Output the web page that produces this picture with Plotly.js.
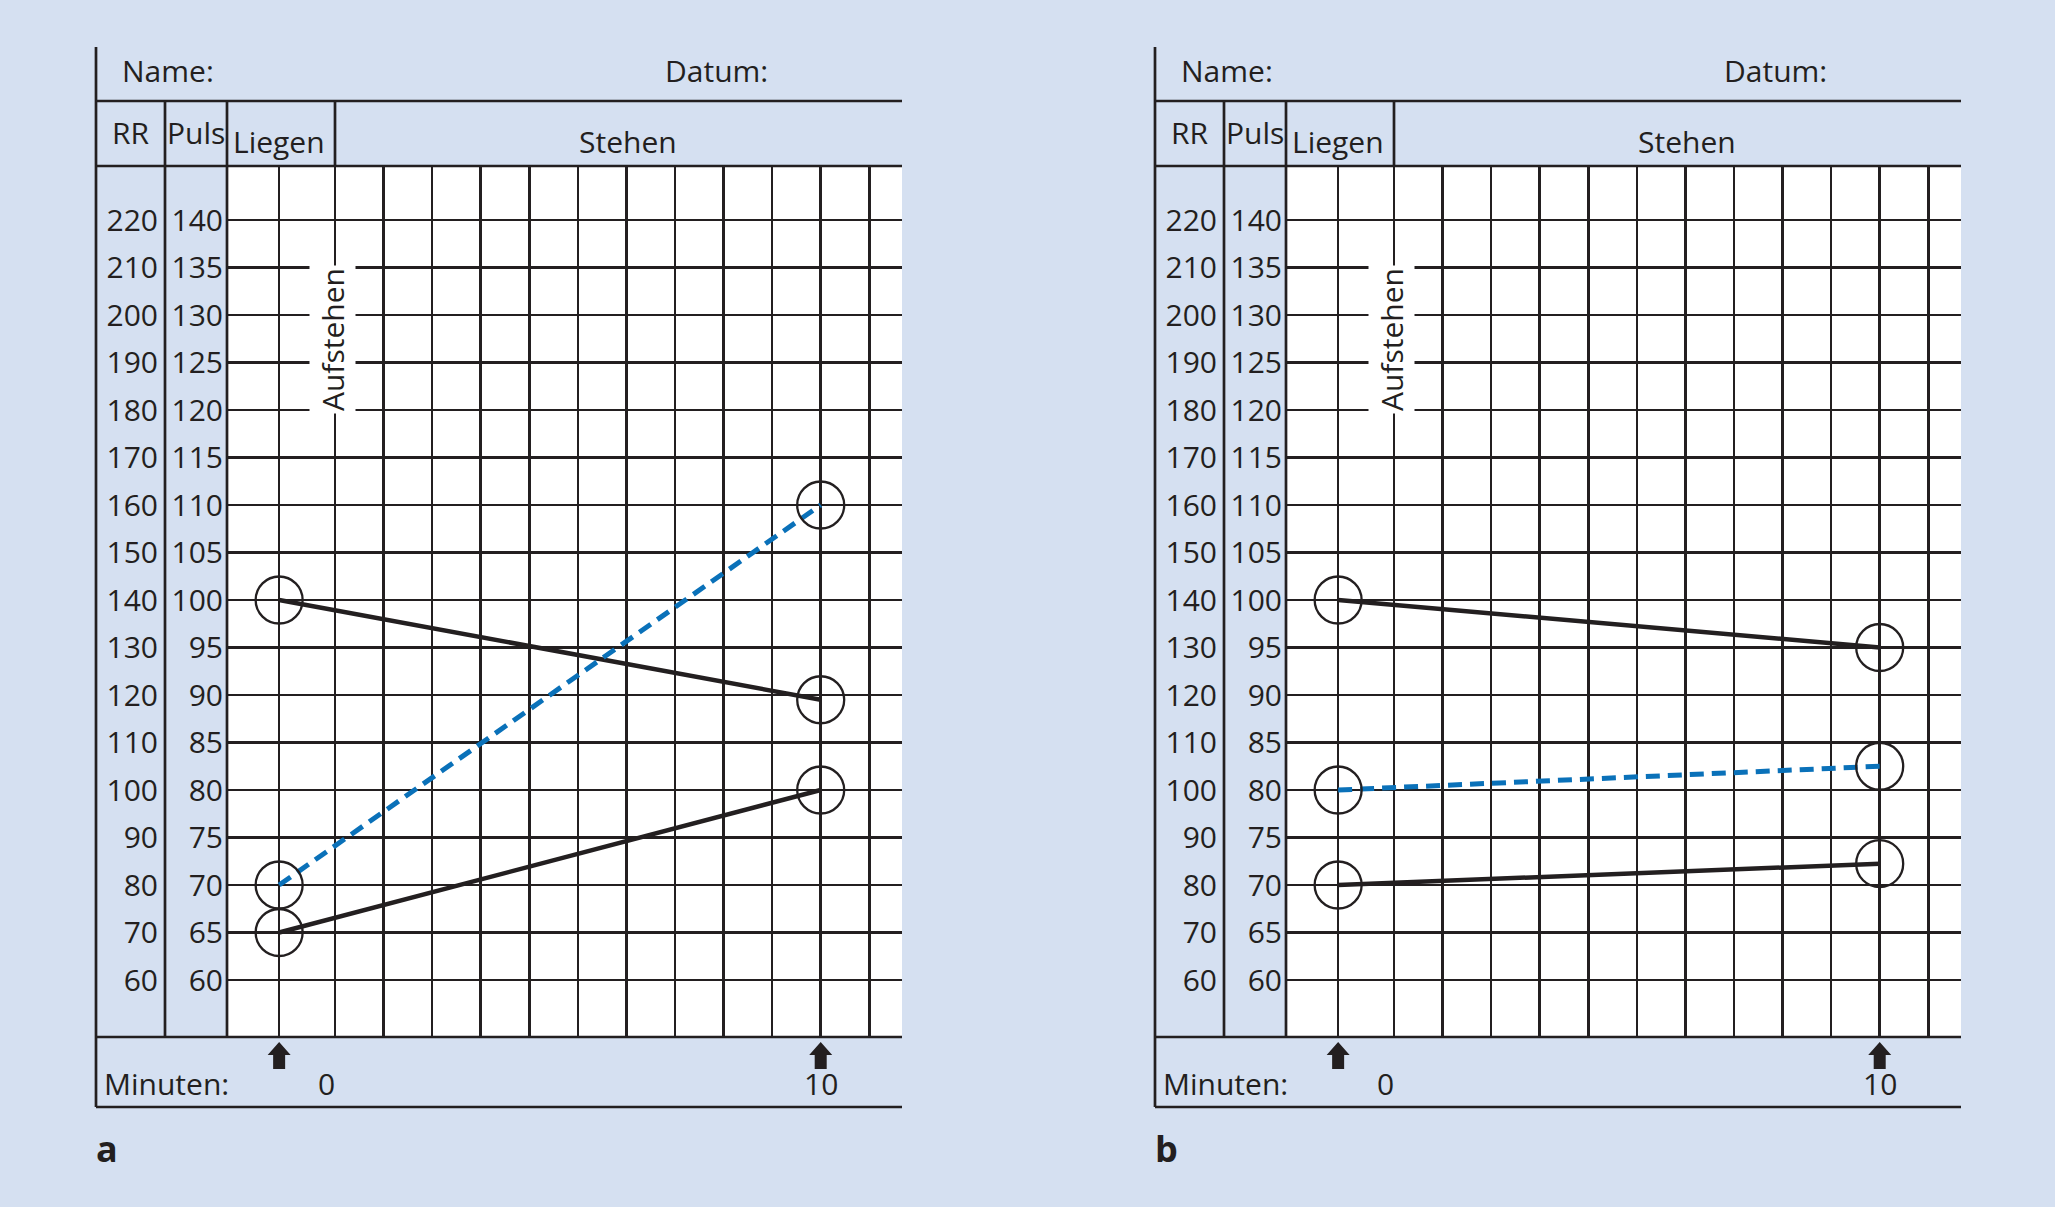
<!DOCTYPE html>
<html>
<head>
<meta charset="utf-8">
<script src="https://cdn.plot.ly/plotly-3.0.1.min.js"></script>
<style>html,body{margin:0;padding:0;background:#d5e0f1;}</style>
</head>
<body>
<div id="chart" style="width:2055px;height:1207px;"></div>
<script>
// ---------------- data ----------------
const RR_TICKS = [60, 70, 80, 90, 100, 110, 120, 130, 140, 150, 160, 170, 180, 190, 200, 210, 220];
const RR_LABELS = ['60', '70', '80', '90', '100', '110', '120', '130', '140', '150', '160', '170', '180', '190', '200', '210', '220'];
const PULS_TICKS = [60, 65, 70, 75, 80, 85, 90, 95, 100, 105, 110, 115, 120, 125, 130, 135, 140];
const PULS_LABELS = ['60', '65', '70', '75', '80', '85', '90', '95', '100', '105', '110', '115', '120', '125', '130', '135', '140'];

const LIEGEN_X = -1.15;                 // column of the lying measurement (before standing up at 0 min)
const TIME_X = [LIEGEN_X, 10];          // measurement times: lying, 10 min standing
const MINUTE_GRID = [0, 1, 2, 3, 4, 5, 6, 7, 8, 9, 10, 11];
const MINUTE_LABEL_VALUES = [0, 10];
const MINUTE_LABELS = ['0', '10'];

// Panel a
const A_RR_SYS = [140, 119];
const A_RR_DIA = [70, 100];
const A_PULS = [70, 110];
// Panel b
const B_RR_SYS = [140, 130];
const B_RR_DIA = [80, 84.5];
const B_PULS = [80, 82.5];

const PANEL_LABELS = ['a', 'b'];
const TXT_NAME = 'Name:';
const TXT_DATUM = 'Datum:';
const TXT_RR = 'RR';
const TXT_PULS = 'Puls';
const TXT_LIEGEN = 'Liegen';
const TXT_STEHEN = 'Stehen';
const TXT_AUF = 'Aufstehen';
const TXT_MIN = 'Minuten:';

// ---------------- layout helpers ----------------
const W = 2055, H = 1207;
const px = x => x / W;
const py = y => 1 - y / H;
const INK = '#231f20';
const BLUE = '#0a71b9';
const FONT = 'Open Sans, Noto Sans, sans-serif';
const FS = 30;

const X0PX = 335, PX_PER_MIN = 48.57;
const PLOT_L = 227, PLOT_R = 902, PLOT_T = 166, PLOT_B = 1037;
const xRange = [(PLOT_L - X0PX) / PX_PER_MIN, (PLOT_R - X0PX) / PX_PER_MIN];
const RR_RANGE = [48, 231.37];
const toPuls = v => 60 + (v - 60) / 2;
const PULS_RANGE = [toPuls(RR_RANGE[0]), toPuls(RR_RANGE[1])];

const panels = [
  {dx: 0, xa: 'x', yr: 'y', yp: 'y2', sys: A_RR_SYS, dia: A_RR_DIA, puls: A_PULS},
  {dx: 1059, xa: 'x2', yr: 'y3', yp: 'y4', sys: B_RR_SYS, dia: B_RR_DIA, puls: B_PULS}
];

const traces = [];
const shapes = [];
const annotations = [];
const layout = {
  width: W, height: H,
  margin: {l: 0, r: 0, t: 0, b: 0},
  paper_bgcolor: '#d5e0f1',
  plot_bgcolor: '#ffffff',
  showlegend: false,
  font: {family: FONT, color: INK, size: FS}
};

const marker = {symbol: 'circle-open', size: 47, color: INK, line: {width: 2.3, color: INK}};

panels.forEach((p, i) => {
  const dx = p.dx;
  traces.push({x: TIME_X, y: p.sys, xaxis: p.xa, yaxis: p.yr, type: 'scatter', mode: 'lines+markers',
    line: {color: INK, width: 4.5}, marker: marker, cliponaxis: false, hoverinfo: 'skip'});
  traces.push({x: TIME_X, y: p.dia, xaxis: p.xa, yaxis: p.yr, type: 'scatter', mode: 'lines+markers',
    line: {color: INK, width: 4.5}, marker: marker, cliponaxis: false, hoverinfo: 'skip'});
  traces.push({x: TIME_X, y: p.puls, xaxis: p.xa, yaxis: p.yp, type: 'scatter', mode: 'lines+markers',
    line: {color: BLUE, width: 5, dash: '14px,8px'}, marker: marker, cliponaxis: false, hoverinfo: 'skip'});

  const xKey = i === 0 ? 'xaxis' : 'xaxis2';
  const yrKey = i === 0 ? 'yaxis' : 'yaxis3';
  const ypKey = i === 0 ? 'yaxis2' : 'yaxis4';
  layout[xKey] = {
    domain: [px(PLOT_L + dx), px(PLOT_R + dx)], range: xRange,
    tickvals: [LIEGEN_X].concat(MINUTE_GRID), showticklabels: false, ticks: '',
    showgrid: true, gridcolor: INK, gridwidth: 2.5, zeroline: false, showline: false,
    anchor: p.yr, fixedrange: true
  };
  layout[yrKey] = {
    domain: [py(PLOT_B), py(PLOT_T)], range: RR_RANGE,
    tickvals: RR_TICKS, ticktext: RR_LABELS, ticks: '',
    anchor: 'free', position: px(158 + dx), side: 'left',
    showgrid: true, gridcolor: INK, gridwidth: 2.5, zeroline: false, showline: false,
    tickfont: {size: FS, color: INK, family: FONT}, fixedrange: true
  };
  layout[ypKey] = {
    overlaying: p.yr, anchor: p.xa, side: 'left', range: PULS_RANGE,
    tickvals: PULS_TICKS, ticktext: PULS_LABELS, ticks: '', ticklabelstandoff: 3,
    showgrid: false, zeroline: false, showline: false,
    tickfont: {size: FS, color: INK, family: FONT}, fixedrange: true
  };

  // table frame lines
  const segs = [
    [96, 47, 96, 1107],
    [96, 101, 902, 101],
    [96, 166, 902, 166],
    [165, 101, 165, 1037],
    [227, 101, 227, 1037],
    [335, 101, 335, 166],
    [96, 1037, 902, 1037],
    [96, 1107, 902, 1107]
  ];
  segs.forEach(s => shapes.push({type: 'line', xref: 'paper', yref: 'paper',
    x0: px(s[0] + dx), y0: py(s[1]), x1: px(s[2] + dx), y1: py(s[3]),
    line: {color: INK, width: 2.7}, layer: 'above'}));

  // up arrows under the measurement times
  TIME_X.forEach(t => shapes.push({type: 'path', xref: p.xa, yref: 'paper',
    xsizemode: 'pixel', xanchor: t, ysizemode: 'pixel', yanchor: py(1069),
    path: 'M -6 0 L 6 0 L 6 14 L 11.5 14 L 0 27 L -11.5 14 L -6 14 Z',
    fillcolor: INK, line: {width: 0}, layer: 'above'}));

  const ann = (x, y, text, opts) => annotations.push(Object.assign({
    xref: 'paper', yref: 'paper', x: px(x + dx), y: py(y), text: text, showarrow: false,
    xanchor: 'center', yanchor: 'middle', font: {size: FS, color: INK, family: FONT}
  }, opts || {}));
  ann(120, 70, TXT_NAME, {xanchor: 'left'});
  ann(716.5, 70, TXT_DATUM);
  ann(131, 132, TXT_RR);
  ann(196, 132, TXT_PULS);
  ann(279, 141, TXT_LIEGEN);
  ann(628, 141, TXT_STEHEN);
  ann(102, 1083, TXT_MIN, {xanchor: 'left'});
  ann(94, 1148, '<b>' + PANEL_LABELS[i] + '</b>', {xanchor: 'left', font: {size: 36, color: INK, family: FONT}});

  annotations.push({xref: p.xa, yref: 'paper', x: 0, xshift: -3, y: py(340), text: TXT_AUF,
    xanchor: 'center', yanchor: 'middle',
    textangle: -90, showarrow: false, bgcolor: '#ffffff', borderpad: 2,
    font: {size: FS, color: INK, family: FONT}});
  MINUTE_LABEL_VALUES.forEach((v, k) => annotations.push({xref: p.xa, yref: 'paper', x: v,
    xshift: v === 0 ? -9 : 0, y: py(1083), text: MINUTE_LABELS[k], showarrow: false,
    xanchor: 'center', yanchor: 'middle',
    font: {size: FS, color: INK, family: FONT}}));
});

layout.shapes = shapes;
layout.annotations = annotations;

Plotly.newPlot('chart', traces, layout, {staticPlot: true, displayModeBar: false});
</script>
</body>
</html>
